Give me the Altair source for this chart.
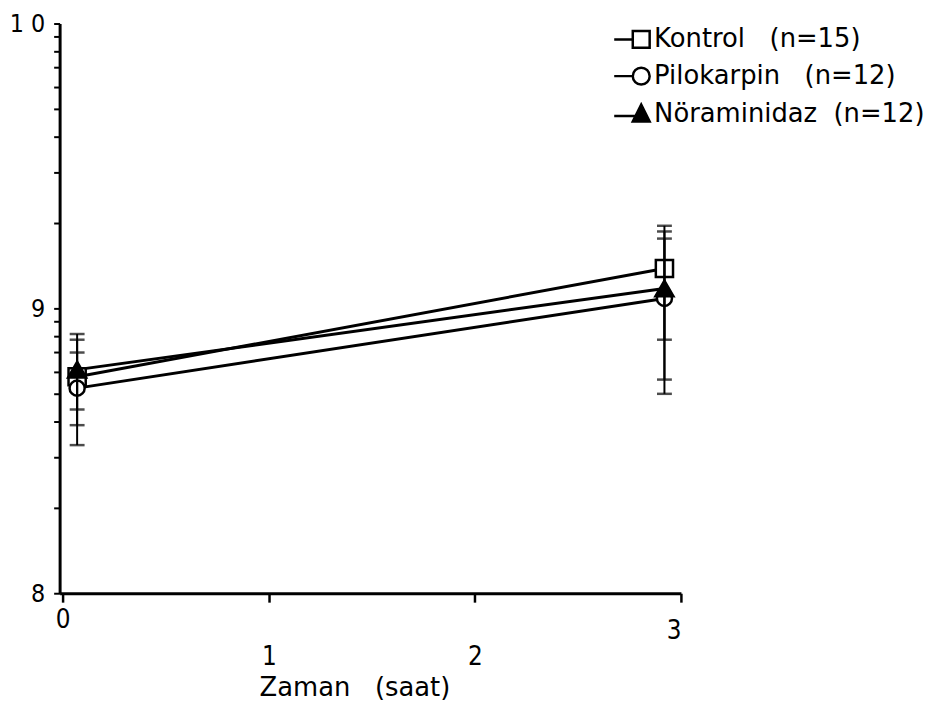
import altair as alt
import pandas as pd
import numpy as np

# ---- data ----
NB = "\u00a0"
series = [
    "Kontrol" + NB * 3 + "(n=15)",
    "Pilokarpin" + NB * 3 + "(n=12)",
    "Nöraminidaz" + NB * 2 + "(n=12)",
]
times = [0.07, 2.92]

kontrol_mean = [8.76, 9.14]
kontrol_lo = [8.59, 8.89]
kontrol_hi = [8.89, 9.29]

pilo_mean = [8.72, 9.035]
pilo_lo = [8.52, 8.70]
pilo_hi = [8.845, 9.245]

nor_mean = [8.785, 9.07]
nor_lo = [8.645, 8.75]
nor_hi = [8.91, 9.27]

x_ticks = [0, 1, 2, 3]
y_major = [8, 9, 10]
y_labels = {8: "8", 9: "9", 10: "1 0"}

rows = []
for name, m, lo, hi in [
    (series[0], kontrol_mean, kontrol_lo, kontrol_hi),
    (series[1], pilo_mean, pilo_lo, pilo_hi),
    (series[2], nor_mean, nor_lo, nor_hi),
]:
    for t, mm, l, h in zip(times, m, lo, hi):
        rows.append({"series": name, "t": t, "mean": mm, "lo": l, "hi": h})
df = pd.DataFrame(rows)

# log-cycle style minor ticks on the y axis
y_minor = [float(round(c + np.log10(k), 6)) for c in (8, 9) for k in range(2, 10)]

NARROW = "DejaVu Sans Condensed, Liberation Sans Narrow, sans-serif"
WIDE = "DejaVu Sans, sans-serif"

x_scale = alt.Scale(domain=[-0.015, 3], nice=False, zero=False)
y_scale = alt.Scale(domain=[8, 10], nice=False, zero=False)

x_axis = alt.Axis(
    values=x_ticks, format="d", title="Zaman" + NB * 3 + "(saat)",
    titleFont=WIDE, titleFontSize=26, titleFontWeight="normal", titleColor="black",
    titleX=297, titleY=95, titleBaseline="middle",
    labelFont=NARROW, labelFontSize=26, labelColor="black",
    labelPadding={"condition": [
        {"test": "datum.value == 1 || datum.value == 2", "value": 42},
        {"test": "datum.value == 3", "value": 16},
    ], "value": 5},
    tickSize=9, tickWidth=2.5, tickColor="black",
    domainColor="black", domainWidth=3, grid=False,
)

label_expr = " : ".join(
    f"datum.value == {v} ? '{t}'" for v, t in y_labels.items()
) + " : ''"

y_axis = alt.Axis(
    values=y_major, title=None, orient="left",
    labelExpr=label_expr,
    labelOverlap=False,
    labelFont=NARROW, labelFontSize=25, labelColor="black", labelPadding=9,
    tickSize=6, tickWidth=2, tickColor="black",
    domainColor="black", domainWidth=3, grid=False,
)

y_minor_axis = alt.Axis(
    values=y_minor, title=None, orient="left", labels=False, domain=False,
    tickSize=6, tickWidth=2, tickColor="black", grid=False, offset=0,
)

base = alt.Chart(df)

lines = base.mark_line(color="black", strokeWidth=3).encode(
    x=alt.X("t:Q", scale=x_scale, axis=x_axis),
    y=alt.Y("mean:Q", scale=y_scale, axis=y_axis),
    detail="series:N",
)

minor_layer = base.mark_point(opacity=0).encode(
    x="t:Q",
    y=alt.Y("mean:Q", axis=y_minor_axis),
)

marker_styles = [
    (series[0], "square", "white", 300),
    (series[1], "circle", "white", 230),
    (series[2], "triangle-up", "black", 330),
]
point_layers = [
    base.transform_filter(alt.datum.series == s).mark_point(
        shape=shp, filled=True, fill=fc, stroke="black", strokeWidth=2.5, size=sz, opacity=1
    ).encode(x="t:Q", y=alt.Y("mean:Q", axis=None))
    for s, shp, fc, sz in marker_styles
]

rules = base.mark_rule(color="black", strokeWidth=2).encode(
    x="t:Q", y=alt.Y("lo:Q", axis=None), y2="hi:Q"
)

caps = base.transform_fold(["lo", "hi"], as_=["end", "val"]).mark_tick(
    color="black", thickness=2.5, size=15, orient="horizontal"
).encode(x="t:Q", y=alt.Y("val:Q", axis=None))


# legend symbols: a short line stub followed by the marker
def tri(f):
    cy = 0.233
    pts = [(0, -1.1), (1, 0.9), (-1, 0.9)]
    p = [(x * f, cy + (y - cy) * f) for x, y in pts]
    return "M{:.3f},{:.3f}L{:.3f},{:.3f}L{:.3f},{:.3f}Z".format(*p[0], *p[1], *p[2])


square_p = "M-3.2,0H-1M-1,-1H1V1H-1Z"
circle_p = "M-3.2,0H-1M1,0A1,1,0,1,1,-1,0A1,1,0,1,1,1,0Z"
tri_p = "M-3.2,0.25H-0.75" + "".join(tri(f) for f in [1, 0.72, 0.44, 0.16])

leg = alt.Legend(
    title=None, orient="none", legendX=573, legendY=3,
    labelFont=WIDE, labelFontSize=26, labelColor="black", labelLimit=0,
    symbolSize=289, symbolStrokeWidth=2.5, symbolOpacity=1,
    rowPadding=9, labelOffset=0,
)

legend_layer = base.mark_point(filled=False, opacity=0, color="black").encode(
    x="t:Q",
    y=alt.Y("mean:Q", axis=None),
    shape=alt.Shape("series:N", scale=alt.Scale(domain=series, range=[square_p, circle_p, tri_p]), legend=leg),
)

chart = alt.layer(lines, minor_layer, *point_layers, rules, caps, legend_layer).resolve_axis(
    y="independent"
).properties(
    width=626, height=574,
    padding={"left": 52, "top": 13, "right": 256, "bottom": 114},
    autosize=alt.AutoSizeParams(type="none"),
    background="white",
).configure_view(stroke=None)

chart.save("out.html", embed_options={"renderer": "svg", "actions": False})
